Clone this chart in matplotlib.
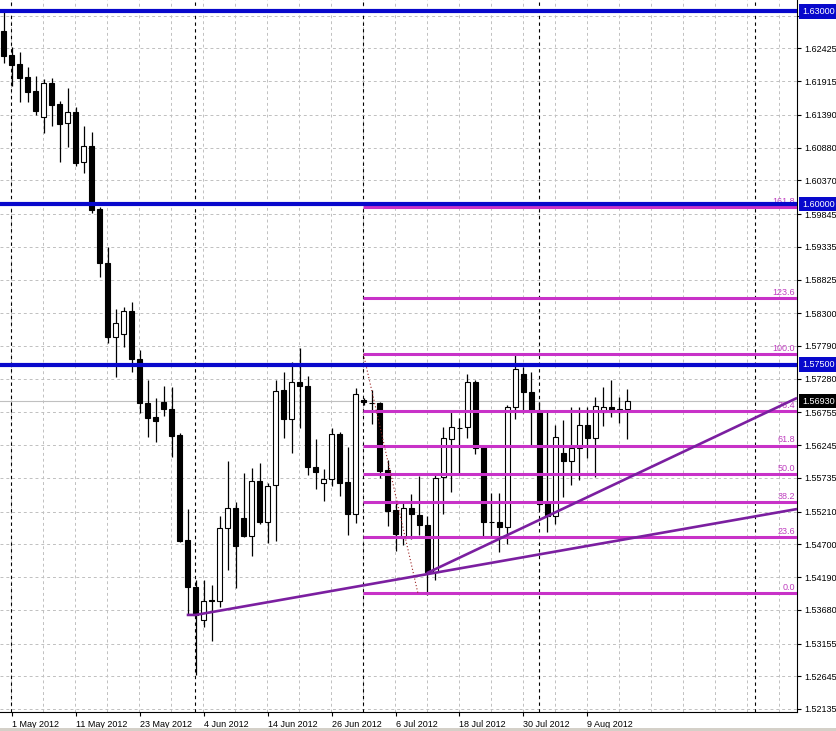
import matplotlib
matplotlib.use('Agg')
import matplotlib.pyplot as plt
import matplotlib.transforms as mtransforms
from matplotlib.patches import Rectangle

# GBPUSD daily, bar 0 = 1 May 2012 (bar -1 = 30 Apr)
opens = [1.6270, 1.6232, 1.6218, 1.6198, 1.6176, 1.6136, 1.6189, 1.6156, 1.6126, 1.6143,
         1.6066, 1.6090, 1.5992, 1.5908, 1.5793, 1.5798, 1.5833, 1.5759, 1.5690, 1.5668,
         1.5692, 1.5681, 1.5640, 1.5477, 1.5404, 1.5352, 1.5383, 1.5382, 1.5495, 1.5527,
         1.5511, 1.5483, 1.5569, 1.5505, 1.5562, 1.5710, 1.5665, 1.5723, 1.5717, 1.5590,
         1.5566, 1.5572, 1.5642, 1.5567, 1.5517, 1.5695, 1.5690, 1.5690, 1.5586, 1.5523,
         1.5480, 1.5527, 1.5516, 1.5500, 1.5427, 1.5575, 1.5634, 1.5651, 1.5653, 1.5723,
         1.5622, 1.5505, 1.5505, 1.5497, 1.5684, 1.5735, 1.5707, 1.5676, 1.5534, 1.5514,
         1.5612, 1.5600, 1.5620, 1.5656, 1.5636, 1.5676, 1.5684, 1.5676, 1.5681]
highs = [1.6299, 1.6245, 1.6237, 1.6214, 1.6200, 1.6195, 1.6196, 1.6161, 1.6181, 1.6151,
         1.6122, 1.6112, 1.5995, 1.5933, 1.5837, 1.5840, 1.5847, 1.5773, 1.5726, 1.5698,
         1.5717, 1.5715, 1.5643, 1.5525, 1.5414, 1.5414, 1.5407, 1.5514, 1.5600, 1.5536,
         1.5581, 1.5589, 1.5597, 1.5566, 1.5726, 1.5738, 1.5754, 1.5776, 1.5732, 1.5634,
         1.5587, 1.5651, 1.5645, 1.5622, 1.5714, 1.5698, 1.5710, 1.5692, 1.5601, 1.5534,
         1.5534, 1.5548, 1.5576, 1.5514, 1.5578, 1.5653, 1.5678, 1.5667, 1.5735, 1.5726,
         1.5623, 1.5550, 1.5550, 1.5687, 1.5765, 1.5746, 1.5738, 1.5692, 1.5678, 1.5656,
         1.5664, 1.5684, 1.5684, 1.5684, 1.5699, 1.5715, 1.5726, 1.5699, 1.5712]
lows = [1.6220, 1.6184, 1.6159, 1.6159, 1.6139, 1.6111, 1.6122, 1.6066, 1.6089, 1.6059,
        1.6048, 1.5986, 1.5886, 1.5784, 1.5731, 1.5777, 1.5738, 1.5675, 1.5637, 1.5629,
        1.5670, 1.5606, 1.5474, 1.5360, 1.5266, 1.5341, 1.5319, 1.5372, 1.5430, 1.5402,
        1.5481, 1.5452, 1.5502, 1.5472, 1.5475, 1.5636, 1.5612, 1.5651, 1.5578, 1.5556,
        1.5537, 1.5561, 1.5545, 1.5485, 1.5503, 1.5687, 1.5657, 1.5573, 1.5499, 1.5460,
        1.5469, 1.5478, 1.5485, 1.5391, 1.5414, 1.5517, 1.5552, 1.5581, 1.5636, 1.5611,
        1.5483, 1.5483, 1.5458, 1.5471, 1.5665, 1.5675, 1.5623, 1.5523, 1.5489, 1.5502,
        1.5544, 1.5562, 1.5570, 1.5604, 1.5575, 1.5654, 1.5668, 1.5659, 1.5634]
closes = [1.6231, 1.6217, 1.6196, 1.6175, 1.6145, 1.6189, 1.6154, 1.6125, 1.6143, 1.6064,
          1.6090, 1.5991, 1.5908, 1.5793, 1.5815, 1.5833, 1.5759, 1.5690, 1.5667, 1.5662,
          1.5681, 1.5639, 1.5475, 1.5404, 1.5360, 1.5382, 1.5382, 1.5495, 1.5527, 1.5467,
          1.5483, 1.5569, 1.5505, 1.5561, 1.5709, 1.5665, 1.5723, 1.5717, 1.5590, 1.5583,
          1.5572, 1.5642, 1.5566, 1.5517, 1.5704, 1.5692, 1.5690, 1.5584, 1.5522, 1.5486,
          1.5527, 1.5517, 1.5500, 1.5427, 1.5573, 1.5636, 1.5653, 1.5651, 1.5723, 1.5620,
          1.5505, 1.5505, 1.5497, 1.5684, 1.5743, 1.5707, 1.5676, 1.5533, 1.5514, 1.5637,
          1.5600, 1.5620, 1.5656, 1.5636, 1.5685, 1.5684, 1.5676, 1.5681, 1.5693]
first_bar = -1

price_ticks = [1.62935, 1.62425, 1.61915, 1.61390, 1.60880, 1.60370, 1.59845, 1.59335,
               1.58825, 1.58300, 1.57790, 1.57280, 1.56755, 1.56245, 1.55735, 1.55210,
               1.54700, 1.54190, 1.53680, 1.53155, 1.52645, 1.52135]
date_ticks = [0, 8, 16, 24, 32, 40, 48, 56, 64, 72]
date_labels = ['1 May 2012', '11 May 2012', '23 May 2012', '4 Jun 2012', '14 Jun 2012',
               '26 Jun 2012', '6 Jul 2012', '18 Jul 2012', '30 Jul 2012', '9 Aug 2012']
month_starts = [0, 23, 44, 66, 93]

levels_blue = [1.63, 1.60, 1.575]
last_price = 1.5693

# fibo retracement anchors (bar, price) and levels
fib_bars = [44, 50.8]
fib_prices = [1.5766, 1.5394]
fib_levels = [0.0, 23.6, 38.2, 50.0, 61.8, 76.4, 100.0, 123.6, 161.8]

# trend lines
tl1_bars = [21.9, 23.0, 98.2]
tl1_prices = [1.5360, 1.5360, 1.5525]
tl2_bars = [51.9, 98.2]
tl2_prices = [1.5425, 1.5698]

#%%
FONT = 'Liberation Sans'
FS = 6.5
fig = plt.figure(figsize=(8.37, 7.31), dpi=100)
ax = fig.add_axes([0, 19/731, 797/837, 712/731])
ax.set_xlim(-1.44, 98.19)
ax.set_ylim(1.52088, 1.63179)

for s in ['top', 'left']:
    ax.spines[s].set_visible(False)
for s in ['right', 'bottom']:
    ax.spines[s].set_linewidth(0.8)

# grid
for p in price_ticks:
    ax.axhline(p, color='#C0C0C0', lw=0.7, ls=(0, (3, 3)), zorder=0.5)
for b in range(0, 99, 4):
    ax.axvline(b - 0.05, color='#C0C0C0', lw=0.7, ls=(0, (3, 3)), zorder=0.5)
for b in month_starts:
    ax.axvline(b - 0.1, color='black', lw=0.8, ls=(0, (3, 3)), zorder=0.6)
ax.axhline(last_price, color='#C0C0C0', lw=0.8, zorder=0.7)

# candles
w = 0.55
for k in range(len(opens)):
    x = first_bar + k
    o, h, l, c = opens[k], highs[k], lows[k], closes[k]
    ax.vlines(x, l, h, color='black', lw=0.9, zorder=2)
    fc = 'white' if c > o else 'black'
    ax.add_patch(Rectangle((x - w/2, min(o, c)), w, abs(c - o), facecolor=fc,
                           edgecolor='black', lw=0.8, zorder=2.1))

# fibo
fhi, flo = fib_prices[0], fib_prices[1]
for lv in fib_levels:
    p = flo + (fhi - flo) * lv / 100.0
    ax.hlines(p, fib_bars[0] - 0.05, 98.19, color='#C832C8', lw=2.2, zorder=3)
    ax.text(97.95, p + 0.00018, '%.1f' % lv, ha='right', va='bottom', fontsize=6.5,
            family=FONT, color='#C040C0', zorder=3)
ax.plot(fib_bars, fib_prices, color='#9A2222', lw=0.8, ls=(0, (1, 2)), zorder=3.2)

# trend lines
ax.plot(tl1_bars, tl1_prices, color='#7B1FA0', lw=1.9, zorder=4, solid_capstyle='butt')
ax.plot(tl2_bars, tl2_prices, color='#7B1FA0', lw=1.9, zorder=4, solid_capstyle='butt')

# horizontal levels
for p in levels_blue:
    ax.axhline(p, color='#0808CC', lw=3.0, zorder=5)

# axes ticks
ax.yaxis.tick_right()
ax.set_yticks(price_ticks)
ax.set_yticklabels(['%.5f' % p for p in price_ticks])
ax.tick_params(axis='y', direction='out', length=3, width=0.8, pad=2.5, labelsize=FS)
ax.set_xticks(date_ticks)
ax.set_xticklabels(date_labels)
ax.tick_params(axis='x', direction='out', length=3, width=0.8, pad=3, labelsize=FS)
for t in ax.get_xticklabels():
    t.set_horizontalalignment('left')
    t.set_family(FONT)
for t in ax.get_yticklabels():
    t.set_family(FONT)

# price boxes on the right scale
trans = mtransforms.blended_transform_factory(ax.transAxes, ax.transData)
for p in levels_blue:
    ax.text(1.0065, p, '%.5f' % p, transform=trans, ha='left', va='center', fontsize=FS,
            family=FONT, color='white', clip_on=False, zorder=10,
            bbox=dict(boxstyle='square,pad=0.3', facecolor='#0808CC', edgecolor='none'))
ax.text(1.0065, last_price, '%.5f' % last_price, transform=trans, ha='left', va='center',
        fontsize=FS, family=FONT, color='white', clip_on=False, zorder=10,
        bbox=dict(boxstyle='square,pad=0.3', facecolor='black', edgecolor='none'))

fig.add_artist(Rectangle((0, 0), 1, 3/731, transform=fig.transFigure,
                         facecolor='#D4D0C8', edgecolor='none'))

fig.savefig('out.png', dpi=100)
